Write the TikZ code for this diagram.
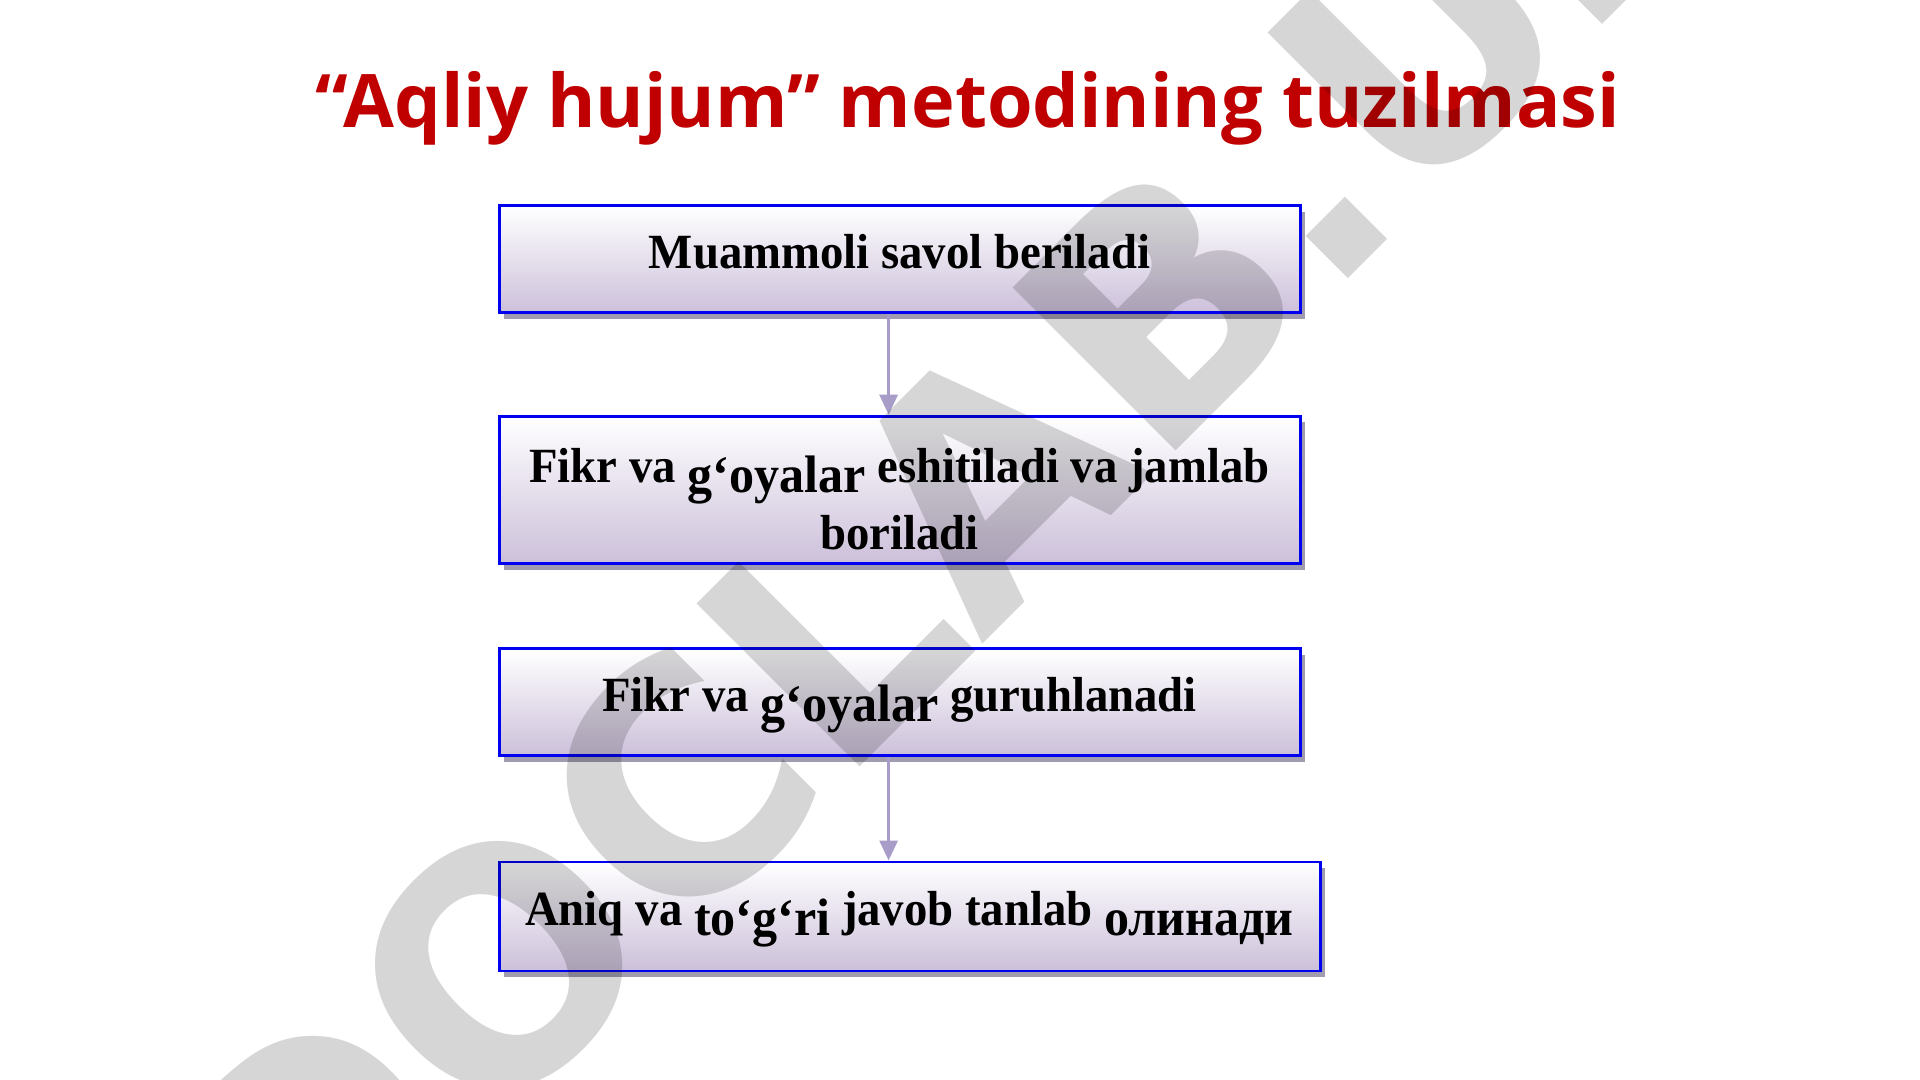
\documentclass[tikz,border=0pt]{standalone}
\usepackage{fontspec}
\setmainfont{Liberation Serif}[FakeStretch=0.95]
\newfontfamily\titlefont{Open Sans}
\newfontfamily\markfont{DejaVu Sans}
\usetikzlibrary{arrows.meta,shadows}
\definecolor{titlered}{RGB}{192,0,0}
\definecolor{boxblue}{RGB}{0,0,240}
\definecolor{boxlav}{RGB}{204,192,218}
\definecolor{boxshade}{RGB}{160,155,175}
\definecolor{arrowlav}{RGB}{168,156,200}
\newcommand{\lowword}[1]{\raisebox{-2.8pt}{\fontsize{15}{15}\selectfont #1}}
\tikzset{
    stepbox/.style={draw=boxblue, line width=0.85pt, top color=white, bottom color=boxlav,
        drop shadow={shadow xshift=0.05cm, shadow yshift=-0.06cm, fill=boxshade, opacity=1},
        minimum width=8.01cm, minimum height=1.07cm, inner sep=0pt, align=center,
        text height=9.4pt, text depth=4pt,
        font=\bfseries\fontsize{14}{16.2}\selectfont},
    flow/.style={draw=arrowlav, line width=0.9pt, -{Triangle[length=0.2cm,width=0.18cm]}}
}

\begin{document}
\begin{tikzpicture}
\fill[white] (0,0) rectangle (19.2,10.8);
\useasboundingbox (0,0) rectangle (19.2,10.8);
\node[anchor=base, text=titlered, font=\titlefont\bfseries\fontsize{21}{24}\selectfont] (title) at (9.68,9.52) {“Aqliy hujum” metodining tuzilmasi};
\node[stepbox] (ask) at (8.995,8.205) {Muammoli savol beriladi};
\node[stepbox, minimum height=1.46cm, text height=38pt, font=\bfseries\fontsize{14}{19}\selectfont] (collect) at (8.995,5.90) {Fikr va \lowword{g‘oyalar} eshitiladi va jamlab\\ boriladi};
\node[stepbox] (group) at (8.995,3.775) {Fikr va \lowword{g‘oyalar} guruhlanadi};
\node[stepbox, minimum width=8.21cm, minimum height=1.09cm] (pick) at (9.095,1.635) {Aniq va \lowword{to‘g‘ri} javob tanlab \lowword{олинади}};
\coordinate (ax) at (8.886,0);
\draw[flow] (ask.south -| ax) -- (collect.north -| ax);
\draw[flow] (group.south -| ax) -- (pick.north -| ax);
% watermark
\node[rotate=45, anchor=base, text=black, text opacity=0.16, font=\markfont\bfseries\fontsize{90}{90}\selectfont] (mark) at (10.27,4.80) {DOCLAB.UZ};
\end{tikzpicture}
\end{document}
